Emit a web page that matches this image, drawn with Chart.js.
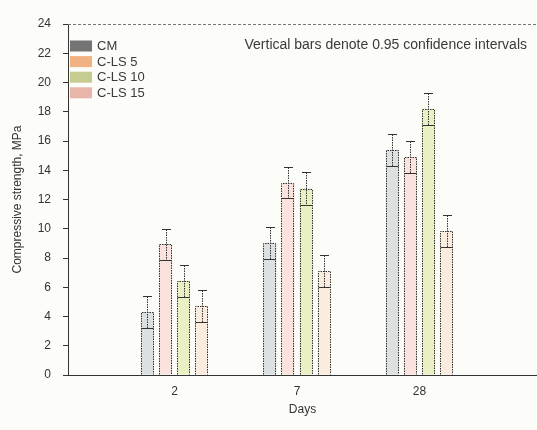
<!DOCTYPE html>
<html>
<head>
<meta charset="utf-8">
<script src="https://cdn.jsdelivr.net/npm/chart.js@4.4.1/dist/chart.umd.min.js"></script>
<style>
    html, body { margin: 0; padding: 0; background: #fcfcf9; }
    #wrap { width: 537px; height: 430px; position: relative; }
</style>
</head>
<body>
<div id="wrap"><canvas id="chart"></canvas></div>
<script>
const DAYS = ['2', '7', '28'];
const SERIES = ['CM', 'C-LS 5', 'C-LS 10', 'C-LS 15'];

const CM = [4.3, 9.05, 15.4];
const CLS5 = [8.95, 13.15, 14.9];
const CLS10 = [6.45, 12.75, 18.2];
const CLS15 = [4.7, 7.1, 9.85];

// half-width of the 0.95 confidence interval
const CI_CM = [1.08, 1.1, 1.1];
const CI_CLS5 = [1.06, 1.08, 1.12];
const CI_CLS10 = [1.1, 1.1, 1.08];
const CI_CLS15 = [1.1, 1.08, 1.1];

const Y_MIN = 0;
const Y_MAX = 24;
const Y_STEP = 2;

const NOTE = 'Vertical bars denote 0.95 confidence intervals';

const LEGEND_COLORS = ['#747474', '#f0b283', '#c6cc8f', '#e9b5ab'];
const FILLS = [
    'rgba(150, 160, 170, 0.30)',
    'rgba(245, 170, 160, 0.30)',
    'rgba(215, 225, 130, 0.45)',
    'rgba(245, 205, 175, 0.35)',
];

const VALUES = [CM, CLS5, CLS10, CLS15];
const CIS = [CI_CM, CI_CLS5, CI_CLS10, CI_CLS15];
const FONT = 'Liberation Sans, Arial, sans-serif';
const INK = '#333';

const decor = {
    id: 'decor',
    beforeDraw(chart) {
        const { ctx, width, height } = chart;
        ctx.save();
        ctx.fillStyle = '#fcfcf9';
        ctx.fillRect(0, 0, width, height);
        ctx.restore();
    },
    afterDatasetsDraw(chart) {
        const { ctx, chartArea, scales } = chart;
        ctx.save();

        // dashed top frame line
        ctx.strokeStyle = '#777';
        ctx.lineWidth = 1;
        ctx.setLineDash([3, 2]);
        ctx.beginPath();
        ctx.moveTo(chartArea.left, chartArea.top + 0.5);
        ctx.lineTo(chartArea.right, chartArea.top + 0.5);
        ctx.stroke();

        chart.data.datasets.forEach((ds, di) => {
            const meta = chart.getDatasetMeta(di);
            meta.data.forEach((bar, i) => {
                const { x, y, base, width } = bar.getProps(['x', 'y', 'base', 'width'], true);
                const l = Math.round(x - width / 2) + 0.5;
                const r = Math.round(x + width / 2) - 0.5;
                const t = Math.round(y) + 0.5;
                const b = Math.round(base) - 0.5;

                // dotted bar outline
                ctx.strokeStyle = INK;
                ctx.setLineDash([1.5, 1]);
                ctx.beginPath();
                ctx.moveTo(l, b);
                ctx.lineTo(l, t);
                ctx.lineTo(r, t);
                ctx.lineTo(r, b);
                ctx.stroke();

                // confidence interval
                const v = ds.data[i].y;
                const hi = Math.round(scales.y.getPixelForValue(v + CIS[di][i])) + 0.5;
                const lo = Math.round(scales.y.getPixelForValue(v - CIS[di][i])) + 0.5;
                const cx = Math.round(x) + 0.5;
                ctx.beginPath();
                ctx.moveTo(cx, hi);
                ctx.lineTo(cx, lo);
                ctx.stroke();
                ctx.setLineDash([]);
                ctx.lineWidth = 1.2;
                ctx.beginPath();
                ctx.moveTo(cx - 4.5, hi);
                ctx.lineTo(cx + 4.5, hi);
                ctx.moveTo(l, lo);
                ctx.lineTo(r, lo);
                ctx.stroke();
                ctx.lineWidth = 1;
            });
        });

        // legend inside plot
        ctx.setLineDash([]);
        ctx.font = '13px ' + FONT;
        ctx.textBaseline = 'middle';
        ctx.textAlign = 'left';
        SERIES.forEach((name, i) => {
            const cy = 46 + i * 15.6;
            ctx.fillStyle = LEGEND_COLORS[i];
            ctx.fillRect(70, cy - 5.5, 22, 11);
            ctx.fillStyle = '#3a3a3a';
            ctx.fillText(name, 97, cy + 0.5);
        });

        // note
        ctx.font = '14px ' + FONT;
        ctx.textAlign = 'right';
        ctx.fillStyle = '#3a3a3a';
        ctx.fillText(NOTE, 527, 45);

        ctx.restore();
    },
};

new Chart(document.getElementById('chart'), {
    type: 'bar',
    data: {
        datasets: SERIES.map((label, di) => ({
            label,
            data: VALUES[di].map((v, i) => ({ x: i + 1, y: v })),
            backgroundColor: FILLS[di],
            borderWidth: 0,
            categoryPercentage: 0.59,
            barPercentage: 0.72,
        })),
    },
    options: {
        responsive: true,
        maintainAspectRatio: false,
        animation: false,
        layout: { padding: { top: 24, right: 0, left: 0, bottom: 0 } },
        plugins: {
            legend: { display: false },
            tooltip: { enabled: false },
        },
        scales: {
            x: {
                type: 'linear',
                offset: false,
                min: 0.13,
                max: 3.96,
                grid: { display: false, offset: false },
                border: { display: true, color: INK, dash: [2, 1] },
                afterBuildTicks: (s) => { s.ticks = DAYS.map((d, i) => ({ value: i + 1 })); },
                ticks: {
                    autoSkip: false,
                    callback: (v) => DAYS[v - 1],
                    padding: 1,
                    color: INK,
                    font: { family: FONT, size: 12 },
                },
                title: {
                    display: true,
                    text: 'Days',
                    color: INK,
                    font: { family: FONT, size: 12 },
                    padding: { top: 0, bottom: 13 },
                },
                afterFit: (s) => { s.height = 55; },
            },
            y: {
                min: Y_MIN,
                max: Y_MAX,
                ticks: {
                    stepSize: Y_STEP,
                    padding: 12,
                    color: INK,
                    font: { family: FONT, size: 12 },
                },
                grid: { display: true, drawOnChartArea: false, tickLength: 5, color: INK },
                border: { display: true, color: INK, dash: [2, 1] },
                title: {
                    display: true,
                    text: 'Compressive strength, MPa',
                    color: INK,
                    font: { family: FONT, size: 12 },
                    padding: { top: 10, bottom: 0 },
                },
                afterFit: (s) => { s.width = 68; },
            },
        },
    },
    plugins: [decor],
});
</script>
</body>
</html>
